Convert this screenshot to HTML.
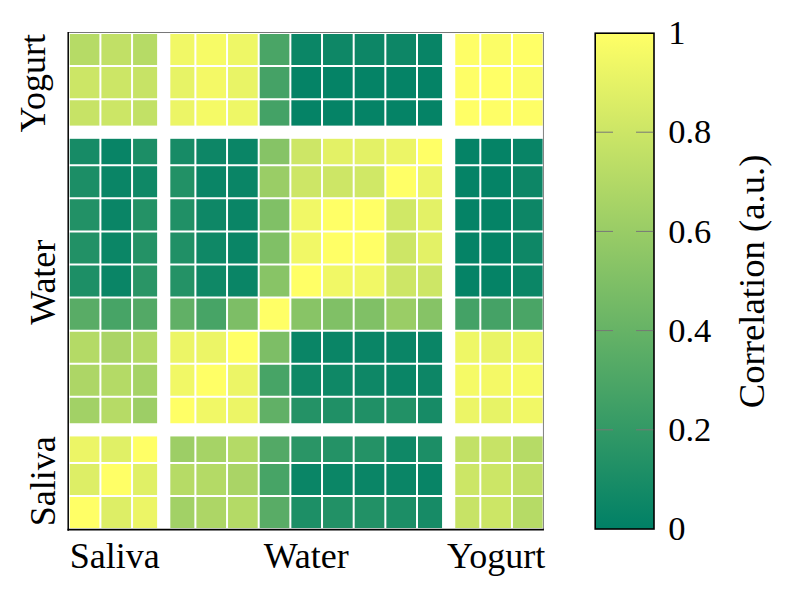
<!DOCTYPE html>
<html><head><meta charset="utf-8"><style>
html,body{margin:0;padding:0;background:#fff;}
body{width:789px;height:595px;overflow:hidden;}
svg{display:block;}
text{font-family:"Liberation Serif",serif;fill:#000;}
</style></head><body>
<svg width="789" height="595" viewBox="0 0 789 595">
<defs><linearGradient id="cb" x1="0" y1="1" x2="0" y2="0"><stop offset="0" stop-color="#008066"/><stop offset="1" stop-color="#ffff66"/></linearGradient></defs>
<g><rect x="68.74" y="33.00" width="31.66" height="33.07" fill="#b6db66"/><rect x="100.40" y="33.00" width="31.66" height="33.07" fill="#c1e066"/><rect x="132.06" y="33.00" width="31.66" height="33.07" fill="#b6db66"/><rect x="163.72" y="33.00" width="31.66" height="33.07" fill="#f1f866"/><rect x="195.38" y="33.00" width="31.66" height="33.07" fill="#f7fb66"/><rect x="227.04" y="33.00" width="31.66" height="33.07" fill="#eef766"/><rect x="258.70" y="33.00" width="31.66" height="33.07" fill="#4aa566"/><rect x="290.36" y="33.00" width="31.66" height="33.07" fill="#0b8666"/><rect x="322.02" y="33.00" width="31.66" height="33.07" fill="#0e8766"/><rect x="353.68" y="33.00" width="31.66" height="33.07" fill="#0d8666"/><rect x="385.34" y="33.00" width="31.66" height="33.07" fill="#0d8666"/><rect x="417.00" y="33.00" width="31.66" height="33.07" fill="#088466"/><rect x="448.66" y="33.00" width="31.66" height="33.07" fill="#fefe66"/><rect x="480.32" y="33.00" width="31.66" height="33.07" fill="#fbfd66"/><rect x="511.98" y="33.00" width="31.66" height="33.07" fill="#ffff66"/><rect x="68.74" y="66.07" width="31.66" height="33.07" fill="#cce666"/><rect x="100.40" y="66.07" width="31.66" height="33.07" fill="#cce666"/><rect x="132.06" y="66.07" width="31.66" height="33.07" fill="#c7e366"/><rect x="163.72" y="66.07" width="31.66" height="33.07" fill="#e7f366"/><rect x="195.38" y="66.07" width="31.66" height="33.07" fill="#f4f966"/><rect x="227.04" y="66.07" width="31.66" height="33.07" fill="#e9f466"/><rect x="258.70" y="66.07" width="31.66" height="33.07" fill="#45a266"/><rect x="290.36" y="66.07" width="31.66" height="33.07" fill="#058366"/><rect x="322.02" y="66.07" width="31.66" height="33.07" fill="#058366"/><rect x="353.68" y="66.07" width="31.66" height="33.07" fill="#058366"/><rect x="385.34" y="66.07" width="31.66" height="33.07" fill="#058366"/><rect x="417.00" y="66.07" width="31.66" height="33.07" fill="#058366"/><rect x="448.66" y="66.07" width="31.66" height="33.07" fill="#fefe66"/><rect x="480.32" y="66.07" width="31.66" height="33.07" fill="#ffff66"/><rect x="511.98" y="66.07" width="31.66" height="33.07" fill="#fbfd66"/><rect x="68.74" y="99.14" width="31.66" height="33.07" fill="#c7e366"/><rect x="100.40" y="99.14" width="31.66" height="33.07" fill="#cce666"/><rect x="132.06" y="99.14" width="31.66" height="33.07" fill="#c2e166"/><rect x="163.72" y="99.14" width="31.66" height="33.07" fill="#ecf566"/><rect x="195.38" y="99.14" width="31.66" height="33.07" fill="#f5fa66"/><rect x="227.04" y="99.14" width="31.66" height="33.07" fill="#eef766"/><rect x="258.70" y="99.14" width="31.66" height="33.07" fill="#44a266"/><rect x="290.36" y="99.14" width="31.66" height="33.07" fill="#058366"/><rect x="322.02" y="99.14" width="31.66" height="33.07" fill="#058366"/><rect x="353.68" y="99.14" width="31.66" height="33.07" fill="#058366"/><rect x="385.34" y="99.14" width="31.66" height="33.07" fill="#058366"/><rect x="417.00" y="99.14" width="31.66" height="33.07" fill="#058366"/><rect x="448.66" y="99.14" width="31.66" height="33.07" fill="#ffff66"/><rect x="480.32" y="99.14" width="31.66" height="33.07" fill="#fefe66"/><rect x="511.98" y="99.14" width="31.66" height="33.07" fill="#fefe66"/><rect x="68.74" y="132.21" width="31.66" height="33.07" fill="#178b66"/><rect x="100.40" y="132.21" width="31.66" height="33.07" fill="#088466"/><rect x="132.06" y="132.21" width="31.66" height="33.07" fill="#1c8e66"/><rect x="163.72" y="132.21" width="31.66" height="33.07" fill="#178b66"/><rect x="195.38" y="132.21" width="31.66" height="33.07" fill="#0d8666"/><rect x="227.04" y="132.21" width="31.66" height="33.07" fill="#0a8566"/><rect x="258.70" y="132.21" width="31.66" height="33.07" fill="#86c366"/><rect x="290.36" y="132.21" width="31.66" height="33.07" fill="#cde666"/><rect x="322.02" y="132.21" width="31.66" height="33.07" fill="#e3f166"/><rect x="353.68" y="132.21" width="31.66" height="33.07" fill="#e3f166"/><rect x="385.34" y="132.21" width="31.66" height="33.07" fill="#ecf566"/><rect x="417.00" y="132.21" width="31.66" height="33.07" fill="#ffff66"/><rect x="448.66" y="132.21" width="31.66" height="33.07" fill="#058366"/><rect x="480.32" y="132.21" width="31.66" height="33.07" fill="#058366"/><rect x="511.98" y="132.21" width="31.66" height="33.07" fill="#088466"/><rect x="68.74" y="165.28" width="31.66" height="33.07" fill="#1c8e66"/><rect x="100.40" y="165.28" width="31.66" height="33.07" fill="#0a8566"/><rect x="132.06" y="165.28" width="31.66" height="33.07" fill="#0f8866"/><rect x="163.72" y="165.28" width="31.66" height="33.07" fill="#229166"/><rect x="195.38" y="165.28" width="31.66" height="33.07" fill="#0a8566"/><rect x="227.04" y="165.28" width="31.66" height="33.07" fill="#0a8566"/><rect x="258.70" y="165.28" width="31.66" height="33.07" fill="#9acd66"/><rect x="290.36" y="165.28" width="31.66" height="33.07" fill="#cde666"/><rect x="322.02" y="165.28" width="31.66" height="33.07" fill="#cde666"/><rect x="353.68" y="165.28" width="31.66" height="33.07" fill="#d0e866"/><rect x="385.34" y="165.28" width="31.66" height="33.07" fill="#ffff66"/><rect x="417.00" y="165.28" width="31.66" height="33.07" fill="#ecf566"/><rect x="448.66" y="165.28" width="31.66" height="33.07" fill="#058366"/><rect x="480.32" y="165.28" width="31.66" height="33.07" fill="#058366"/><rect x="511.98" y="165.28" width="31.66" height="33.07" fill="#0d8666"/><rect x="68.74" y="198.35" width="31.66" height="33.07" fill="#229166"/><rect x="100.40" y="198.35" width="31.66" height="33.07" fill="#0a8566"/><rect x="132.06" y="198.35" width="31.66" height="33.07" fill="#249266"/><rect x="163.72" y="198.35" width="31.66" height="33.07" fill="#209066"/><rect x="195.38" y="198.35" width="31.66" height="33.07" fill="#0e8766"/><rect x="227.04" y="198.35" width="31.66" height="33.07" fill="#0a8566"/><rect x="258.70" y="198.35" width="31.66" height="33.07" fill="#80c066"/><rect x="290.36" y="198.35" width="31.66" height="33.07" fill="#f1f866"/><rect x="322.02" y="198.35" width="31.66" height="33.07" fill="#ffff66"/><rect x="353.68" y="198.35" width="31.66" height="33.07" fill="#ffff66"/><rect x="385.34" y="198.35" width="31.66" height="33.07" fill="#d0e866"/><rect x="417.00" y="198.35" width="31.66" height="33.07" fill="#e3f166"/><rect x="448.66" y="198.35" width="31.66" height="33.07" fill="#058366"/><rect x="480.32" y="198.35" width="31.66" height="33.07" fill="#058366"/><rect x="511.98" y="198.35" width="31.66" height="33.07" fill="#0d8666"/><rect x="68.74" y="231.42" width="31.66" height="33.07" fill="#229166"/><rect x="100.40" y="231.42" width="31.66" height="33.07" fill="#0b8666"/><rect x="132.06" y="231.42" width="31.66" height="33.07" fill="#249266"/><rect x="163.72" y="231.42" width="31.66" height="33.07" fill="#209066"/><rect x="195.38" y="231.42" width="31.66" height="33.07" fill="#0f8866"/><rect x="227.04" y="231.42" width="31.66" height="33.07" fill="#0a8566"/><rect x="258.70" y="231.42" width="31.66" height="33.07" fill="#80c066"/><rect x="290.36" y="231.42" width="31.66" height="33.07" fill="#f1f866"/><rect x="322.02" y="231.42" width="31.66" height="33.07" fill="#ffff66"/><rect x="353.68" y="231.42" width="31.66" height="33.07" fill="#ffff66"/><rect x="385.34" y="231.42" width="31.66" height="33.07" fill="#cde666"/><rect x="417.00" y="231.42" width="31.66" height="33.07" fill="#e3f166"/><rect x="448.66" y="231.42" width="31.66" height="33.07" fill="#058366"/><rect x="480.32" y="231.42" width="31.66" height="33.07" fill="#058366"/><rect x="511.98" y="231.42" width="31.66" height="33.07" fill="#0e8766"/><rect x="68.74" y="264.49" width="31.66" height="33.07" fill="#1d8f66"/><rect x="100.40" y="264.49" width="31.66" height="33.07" fill="#0a8566"/><rect x="132.06" y="264.49" width="31.66" height="33.07" fill="#2a9566"/><rect x="163.72" y="264.49" width="31.66" height="33.07" fill="#249266"/><rect x="195.38" y="264.49" width="31.66" height="33.07" fill="#0f8866"/><rect x="227.04" y="264.49" width="31.66" height="33.07" fill="#0a8566"/><rect x="258.70" y="264.49" width="31.66" height="33.07" fill="#88c466"/><rect x="290.36" y="264.49" width="31.66" height="33.07" fill="#ffff66"/><rect x="322.02" y="264.49" width="31.66" height="33.07" fill="#f1f866"/><rect x="353.68" y="264.49" width="31.66" height="33.07" fill="#f1f866"/><rect x="385.34" y="264.49" width="31.66" height="33.07" fill="#cde666"/><rect x="417.00" y="264.49" width="31.66" height="33.07" fill="#cde666"/><rect x="448.66" y="264.49" width="31.66" height="33.07" fill="#058366"/><rect x="480.32" y="264.49" width="31.66" height="33.07" fill="#058366"/><rect x="511.98" y="264.49" width="31.66" height="33.07" fill="#0b8666"/><rect x="68.74" y="297.56" width="31.66" height="33.07" fill="#59ac66"/><rect x="100.40" y="297.56" width="31.66" height="33.07" fill="#47a466"/><rect x="132.06" y="297.56" width="31.66" height="33.07" fill="#53a966"/><rect x="163.72" y="297.56" width="31.66" height="33.07" fill="#61b066"/><rect x="195.38" y="297.56" width="31.66" height="33.07" fill="#47a466"/><rect x="227.04" y="297.56" width="31.66" height="33.07" fill="#7dbe66"/><rect x="258.70" y="297.56" width="31.66" height="33.07" fill="#ffff66"/><rect x="290.36" y="297.56" width="31.66" height="33.07" fill="#88c466"/><rect x="322.02" y="297.56" width="31.66" height="33.07" fill="#80c066"/><rect x="353.68" y="297.56" width="31.66" height="33.07" fill="#80c066"/><rect x="385.34" y="297.56" width="31.66" height="33.07" fill="#9acd66"/><rect x="417.00" y="297.56" width="31.66" height="33.07" fill="#86c366"/><rect x="448.66" y="297.56" width="31.66" height="33.07" fill="#44a266"/><rect x="480.32" y="297.56" width="31.66" height="33.07" fill="#45a266"/><rect x="511.98" y="297.56" width="31.66" height="33.07" fill="#4aa566"/><rect x="68.74" y="330.63" width="31.66" height="33.07" fill="#b4da66"/><rect x="100.40" y="330.63" width="31.66" height="33.07" fill="#aad466"/><rect x="132.06" y="330.63" width="31.66" height="33.07" fill="#b4da66"/><rect x="163.72" y="330.63" width="31.66" height="33.07" fill="#ecf566"/><rect x="195.38" y="330.63" width="31.66" height="33.07" fill="#ecf566"/><rect x="227.04" y="330.63" width="31.66" height="33.07" fill="#ffff66"/><rect x="258.70" y="330.63" width="31.66" height="33.07" fill="#7dbe66"/><rect x="290.36" y="330.63" width="31.66" height="33.07" fill="#0a8566"/><rect x="322.02" y="330.63" width="31.66" height="33.07" fill="#0a8566"/><rect x="353.68" y="330.63" width="31.66" height="33.07" fill="#0a8566"/><rect x="385.34" y="330.63" width="31.66" height="33.07" fill="#0a8566"/><rect x="417.00" y="330.63" width="31.66" height="33.07" fill="#0a8566"/><rect x="448.66" y="330.63" width="31.66" height="33.07" fill="#eef766"/><rect x="480.32" y="330.63" width="31.66" height="33.07" fill="#e9f466"/><rect x="511.98" y="330.63" width="31.66" height="33.07" fill="#eef766"/><rect x="68.74" y="363.70" width="31.66" height="33.07" fill="#add666"/><rect x="100.40" y="363.70" width="31.66" height="33.07" fill="#b4da66"/><rect x="132.06" y="363.70" width="31.66" height="33.07" fill="#a6d366"/><rect x="163.72" y="363.70" width="31.66" height="33.07" fill="#f1f866"/><rect x="195.38" y="363.70" width="31.66" height="33.07" fill="#ffff66"/><rect x="227.04" y="363.70" width="31.66" height="33.07" fill="#ecf566"/><rect x="258.70" y="363.70" width="31.66" height="33.07" fill="#47a466"/><rect x="290.36" y="363.70" width="31.66" height="33.07" fill="#0f8866"/><rect x="322.02" y="363.70" width="31.66" height="33.07" fill="#0f8866"/><rect x="353.68" y="363.70" width="31.66" height="33.07" fill="#0e8766"/><rect x="385.34" y="363.70" width="31.66" height="33.07" fill="#0a8566"/><rect x="417.00" y="363.70" width="31.66" height="33.07" fill="#0d8666"/><rect x="448.66" y="363.70" width="31.66" height="33.07" fill="#f5fa66"/><rect x="480.32" y="363.70" width="31.66" height="33.07" fill="#f4f966"/><rect x="511.98" y="363.70" width="31.66" height="33.07" fill="#f7fb66"/><rect x="68.74" y="396.77" width="31.66" height="33.07" fill="#a2d166"/><rect x="100.40" y="396.77" width="31.66" height="33.07" fill="#b6db66"/><rect x="132.06" y="396.77" width="31.66" height="33.07" fill="#9dce66"/><rect x="163.72" y="396.77" width="31.66" height="33.07" fill="#ffff66"/><rect x="195.38" y="396.77" width="31.66" height="33.07" fill="#f1f866"/><rect x="227.04" y="396.77" width="31.66" height="33.07" fill="#ecf566"/><rect x="258.70" y="396.77" width="31.66" height="33.07" fill="#61b066"/><rect x="290.36" y="396.77" width="31.66" height="33.07" fill="#249266"/><rect x="322.02" y="396.77" width="31.66" height="33.07" fill="#209066"/><rect x="353.68" y="396.77" width="31.66" height="33.07" fill="#209066"/><rect x="385.34" y="396.77" width="31.66" height="33.07" fill="#229166"/><rect x="417.00" y="396.77" width="31.66" height="33.07" fill="#178b66"/><rect x="448.66" y="396.77" width="31.66" height="33.07" fill="#ecf566"/><rect x="480.32" y="396.77" width="31.66" height="33.07" fill="#e7f366"/><rect x="511.98" y="396.77" width="31.66" height="33.07" fill="#f1f866"/><rect x="68.74" y="429.84" width="31.66" height="33.07" fill="#ecf566"/><rect x="100.40" y="429.84" width="31.66" height="33.07" fill="#e0f066"/><rect x="132.06" y="429.84" width="31.66" height="33.07" fill="#ffff66"/><rect x="163.72" y="429.84" width="31.66" height="33.07" fill="#9dce66"/><rect x="195.38" y="429.84" width="31.66" height="33.07" fill="#a6d366"/><rect x="227.04" y="429.84" width="31.66" height="33.07" fill="#b4da66"/><rect x="258.70" y="429.84" width="31.66" height="33.07" fill="#53a966"/><rect x="290.36" y="429.84" width="31.66" height="33.07" fill="#2a9566"/><rect x="322.02" y="429.84" width="31.66" height="33.07" fill="#249266"/><rect x="353.68" y="429.84" width="31.66" height="33.07" fill="#249266"/><rect x="385.34" y="429.84" width="31.66" height="33.07" fill="#0f8866"/><rect x="417.00" y="429.84" width="31.66" height="33.07" fill="#1c8e66"/><rect x="448.66" y="429.84" width="31.66" height="33.07" fill="#c2e166"/><rect x="480.32" y="429.84" width="31.66" height="33.07" fill="#c7e366"/><rect x="511.98" y="429.84" width="31.66" height="33.07" fill="#b6db66"/><rect x="68.74" y="462.91" width="31.66" height="33.07" fill="#ddee66"/><rect x="100.40" y="462.91" width="31.66" height="33.07" fill="#ffff66"/><rect x="132.06" y="462.91" width="31.66" height="33.07" fill="#e0f066"/><rect x="163.72" y="462.91" width="31.66" height="33.07" fill="#b6db66"/><rect x="195.38" y="462.91" width="31.66" height="33.07" fill="#b4da66"/><rect x="227.04" y="462.91" width="31.66" height="33.07" fill="#aad466"/><rect x="258.70" y="462.91" width="31.66" height="33.07" fill="#47a466"/><rect x="290.36" y="462.91" width="31.66" height="33.07" fill="#0a8566"/><rect x="322.02" y="462.91" width="31.66" height="33.07" fill="#0b8666"/><rect x="353.68" y="462.91" width="31.66" height="33.07" fill="#0a8566"/><rect x="385.34" y="462.91" width="31.66" height="33.07" fill="#0a8566"/><rect x="417.00" y="462.91" width="31.66" height="33.07" fill="#088466"/><rect x="448.66" y="462.91" width="31.66" height="33.07" fill="#cce666"/><rect x="480.32" y="462.91" width="31.66" height="33.07" fill="#cce666"/><rect x="511.98" y="462.91" width="31.66" height="33.07" fill="#c1e066"/><rect x="68.74" y="495.98" width="31.66" height="33.07" fill="#ffff66"/><rect x="100.40" y="495.98" width="31.66" height="33.07" fill="#ddee66"/><rect x="132.06" y="495.98" width="31.66" height="33.07" fill="#ecf566"/><rect x="163.72" y="495.98" width="31.66" height="33.07" fill="#a2d166"/><rect x="195.38" y="495.98" width="31.66" height="33.07" fill="#add666"/><rect x="227.04" y="495.98" width="31.66" height="33.07" fill="#b4da66"/><rect x="258.70" y="495.98" width="31.66" height="33.07" fill="#59ac66"/><rect x="290.36" y="495.98" width="31.66" height="33.07" fill="#1d8f66"/><rect x="322.02" y="495.98" width="31.66" height="33.07" fill="#229166"/><rect x="353.68" y="495.98" width="31.66" height="33.07" fill="#229166"/><rect x="385.34" y="495.98" width="31.66" height="33.07" fill="#1c8e66"/><rect x="417.00" y="495.98" width="31.66" height="33.07" fill="#178b66"/><rect x="448.66" y="495.98" width="31.66" height="33.07" fill="#c7e366"/><rect x="480.32" y="495.98" width="31.66" height="33.07" fill="#cce666"/><rect x="511.98" y="495.98" width="31.66" height="33.07" fill="#b6db66"/></g>
<g stroke="#fff" stroke-width="2"><line x1="100.40" y1="33.00" x2="100.40" y2="529.05"/><line x1="132.06" y1="33.00" x2="132.06" y2="529.05"/><line x1="163.72" y1="33.00" x2="163.72" y2="529.05"/><line x1="195.38" y1="33.00" x2="195.38" y2="529.05"/><line x1="227.04" y1="33.00" x2="227.04" y2="529.05"/><line x1="258.70" y1="33.00" x2="258.70" y2="529.05"/><line x1="290.36" y1="33.00" x2="290.36" y2="529.05"/><line x1="322.02" y1="33.00" x2="322.02" y2="529.05"/><line x1="353.68" y1="33.00" x2="353.68" y2="529.05"/><line x1="385.34" y1="33.00" x2="385.34" y2="529.05"/><line x1="417.00" y1="33.00" x2="417.00" y2="529.05"/><line x1="448.66" y1="33.00" x2="448.66" y2="529.05"/><line x1="480.32" y1="33.00" x2="480.32" y2="529.05"/><line x1="511.98" y1="33.00" x2="511.98" y2="529.05"/><line x1="68.74" y1="66.07" x2="543.64" y2="66.07"/><line x1="68.74" y1="99.14" x2="543.64" y2="99.14"/><line x1="68.74" y1="132.21" x2="543.64" y2="132.21"/><line x1="68.74" y1="165.28" x2="543.64" y2="165.28"/><line x1="68.74" y1="198.35" x2="543.64" y2="198.35"/><line x1="68.74" y1="231.42" x2="543.64" y2="231.42"/><line x1="68.74" y1="264.49" x2="543.64" y2="264.49"/><line x1="68.74" y1="297.56" x2="543.64" y2="297.56"/><line x1="68.74" y1="330.63" x2="543.64" y2="330.63"/><line x1="68.74" y1="363.70" x2="543.64" y2="363.70"/><line x1="68.74" y1="396.77" x2="543.64" y2="396.77"/><line x1="68.74" y1="429.84" x2="543.64" y2="429.84"/><line x1="68.74" y1="462.91" x2="543.64" y2="462.91"/><line x1="68.74" y1="495.98" x2="543.64" y2="495.98"/></g>
<rect x="68.74" y="33.00" width="474.90" height="496.05" fill="none" stroke="#fff" stroke-width="2"/>
<g fill="#fff"><rect x="157.12" y="33.00" width="13.2" height="496.05"/><rect x="442.06" y="33.00" width="13.2" height="496.05"/><rect x="68.74" y="125.61" width="474.90" height="13.2"/><rect x="68.74" y="423.24" width="474.90" height="13.2"/></g>
<line x1="68.24" y1="32.5" x2="543.64" y2="32.5" stroke="#787878" stroke-width="1"/>
<line x1="543.44" y1="32" x2="543.44" y2="529.55" stroke="#808080" stroke-width="1"/>
<line x1="68.2" y1="32" x2="68.2" y2="530.75" stroke="#000" stroke-width="1.5"/>
<line x1="67.5" y1="529.60" x2="543.94" y2="529.60" stroke="#000" stroke-width="1.7"/>
<text x="114.8" y="567.8" font-size="36" text-anchor="middle">Saliva</text>
<text x="306.2" y="567.5" font-size="36" text-anchor="middle">Water</text>
<text x="496.1" y="567.5" font-size="36" text-anchor="middle">Yogurt</text>
<text transform="translate(44.6,83.2) rotate(-90)" font-size="36" text-anchor="middle">Yogurt</text>
<text transform="translate(54.5,282.2) rotate(-90)" font-size="36" text-anchor="middle">Water</text>
<text transform="translate(54.5,481.2) rotate(-90)" font-size="36" text-anchor="middle">Saliva</text>
<rect x="595.2" y="33.2" width="58.8" height="495.8" fill="url(#cb)" stroke="#000" stroke-width="1.6"/>
<g stroke="#777" stroke-width="1">
<line x1="596" y1="429.80" x2="613" y2="429.80"/><line x1="636" y1="429.80" x2="653.2" y2="429.80"/>
<line x1="596" y1="330.60" x2="613" y2="330.60"/><line x1="636" y1="330.60" x2="653.2" y2="330.60"/>
<line x1="596" y1="231.40" x2="613" y2="231.40"/><line x1="636" y1="231.40" x2="653.2" y2="231.40"/>
<line x1="596" y1="132.20" x2="613" y2="132.20"/><line x1="636" y1="132.20" x2="653.2" y2="132.20"/>
</g>
<text x="668.2" y="540.20" font-size="34.5">0</text>
<text x="668.2" y="441.00" font-size="34.5">0.2</text>
<text x="668.2" y="341.80" font-size="34.5">0.4</text>
<text x="668.2" y="242.60" font-size="34.5">0.6</text>
<text x="668.2" y="143.40" font-size="34.5">0.8</text>
<text x="668.2" y="44.20" font-size="34.5">1</text>
<text transform="translate(763.5,281.4) rotate(-90)" font-size="36.7" text-anchor="middle">Correlation (a.u.)</text>
</svg>
</body></html>
